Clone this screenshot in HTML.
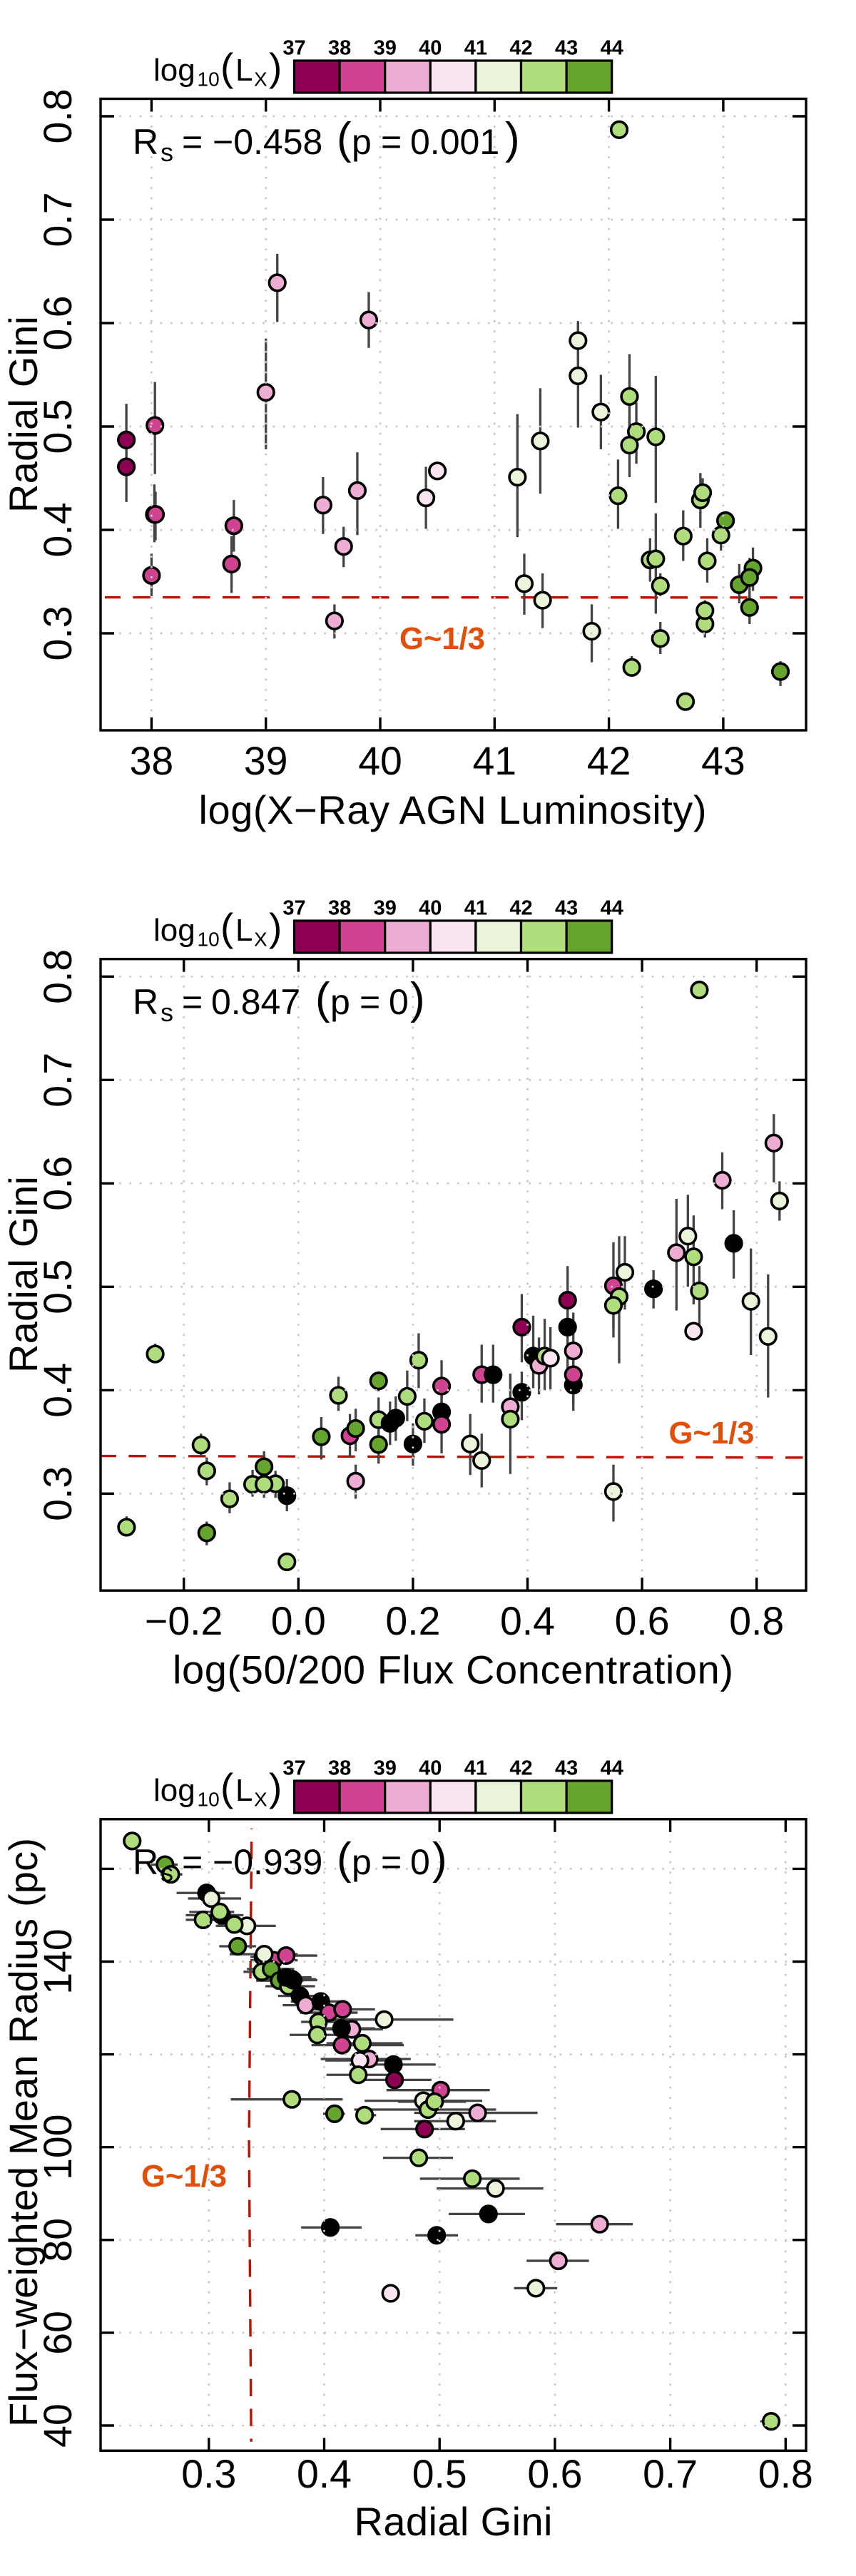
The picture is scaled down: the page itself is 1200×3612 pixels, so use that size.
<!DOCTYPE html>
<html lang="en">
<head>
<meta charset="utf-8">
<title>Radial Gini scatter panels</title>
<style>
html,body{margin:0;padding:0;background:#fff;}
svg{display:block;font-family:"Liberation Sans",Arial,sans-serif;}
</style>
</head>
<body>
<svg id="figure" xmlns="http://www.w3.org/2000/svg" width="1200" height="3612" viewBox="0 0 1200 3612">
  <rect x="0" y="0" width="1200" height="3612" fill="#fff"/>
  <g id="panel1"></g>
  <g id="panel2"></g>
  <g id="panel3"></g>

  <g fill="#000">
    <text x="634.5" y="1155" font-size="56" text-anchor="middle" textLength="712" lengthAdjust="spacing">log(X−Ray AGN Luminosity)</text>
    <text transform="translate(52,581) rotate(-90)" font-size="56" text-anchor="middle" textLength="276" lengthAdjust="spacing">Radial Gini</text>
    <text x="560" y="910" font-size="43.6" font-weight="bold" fill="#e0500a">G~1/3</text>
    <g font-size="50">
      <text x="186" y="216">R</text><text x="225" y="226" font-size="36">s</text><text x="255" y="216">=</text>
      <text x="298" y="216">−0.458</text><text x="472" y="215" font-size="62">(</text><text x="493" y="216">p</text><text x="534" y="216">=</text><text x="575" y="216">0.001</text><text x="708" y="215" font-size="62">)</text>
    </g>
    <g>
      <text x="215" y="113" font-size="44">log</text><text x="276.5" y="120.5" font-size="28">10</text><text x="309" y="113" font-size="55">(</text><text x="330" y="113" font-size="44">L</text><text x="356" y="120.5" font-size="28">X</text><text x="377" y="113" font-size="55">)</text>
    </g>
  </g>

  <g fill="#000">
    <text x="635" y="2360.5" font-size="56" text-anchor="middle" textLength="786" lengthAdjust="spacing">log(50/200 Flux Concentration)</text>
    <text transform="translate(52,1787) rotate(-90)" font-size="56" text-anchor="middle" textLength="276" lengthAdjust="spacing">Radial Gini</text>
    <text x="937.5" y="2024" font-size="43.6" font-weight="bold" fill="#e0500a">G~1/3</text>
    <g font-size="50">
      <text x="186" y="1422">R</text><text x="225" y="1432" font-size="36">s</text><text x="255" y="1422">=</text>
      <text x="296" y="1422">0.847</text><text x="442" y="1421" font-size="62">(</text><text x="463" y="1422">p</text><text x="504" y="1422">=</text><text x="545" y="1422">0</text><text x="575" y="1421" font-size="62">)</text>
    </g>
    <g transform="translate(0,1206)">
      <text x="215" y="113" font-size="44">log</text><text x="276.5" y="120.5" font-size="28">10</text><text x="309" y="113" font-size="55">(</text><text x="330" y="113" font-size="44">L</text><text x="356" y="120.5" font-size="28">X</text><text x="377" y="113" font-size="55">)</text>
    </g>
  </g>

  <g fill="#000">
    <text x="635.5" y="3555" font-size="56" text-anchor="middle" textLength="278" lengthAdjust="spacing">Radial Gini</text>
    <text transform="translate(52,2990) rotate(-90)" font-size="56" text-anchor="middle" textLength="826" lengthAdjust="spacing">Flux−weighted Mean Radius (pc)</text>
    <text x="198" y="3066" font-size="43.6" font-weight="bold" fill="#e0500a">G~1/3</text>
    <g font-size="50">
      <text x="186" y="2628">R</text><text x="225" y="2638" font-size="36">s</text><text x="255" y="2628">=</text>
      <text x="298" y="2628">−0.939</text><text x="472" y="2627" font-size="62">(</text><text x="493" y="2628">p</text><text x="534" y="2628">=</text><text x="575" y="2628">0</text><text x="606" y="2627" font-size="62">)</text>
    </g>
    <g transform="translate(0,2412)">
      <text x="215" y="113" font-size="44">log</text><text x="276.5" y="120.5" font-size="28">10</text><text x="309" y="113" font-size="55">(</text><text x="330" y="113" font-size="44">L</text><text x="356" y="120.5" font-size="28">X</text><text x="377" y="113" font-size="55">)</text>
    </g>
  </g>
</svg>

<script>
// Legend data
const legendLabels = ['37','38','39','40','41','42','43','44'];
const categoryColors = ['#8e0152','#d04391','#efadd3','#fbe5f1','#e9f4db','#b0dd7c','#66a52d','#000000'];

// Panel 1: X-ray luminosity vs radial Gini
const p1Lum  = [37.78,37.78,38.03,38.025,38.035,38.0,38.72,38.70,39.10,39.90,39.00,39.50,39.80,39.68,39.60,40.40,40.50,41.2,41.40,41.73,41.73,41.93,41.26,41.42,41.85,42.09,42.18,42.24,42.18,42.41,42.08,42.80,42.82,43.02,42.98,42.65,42.86,42.36,42.41,42.45,42.84,42.84,42.45,42.2,42.67,43.26,43.14,43.23,43.23,43.5];
const p1Gini = [.487,.461,.501,.415,.415,.356,.404,.367,.639,.603,.533,.424,.438,.384,.312,.431,.457,.451,.486,.583,.549,.514,.348,.332,.302,.787,.529,.495,.482,.49,.433,.429,.436,.409,.395,.394,.370,.371,.372,.346,.309,.322,.295,.267,.234,.363,.347,.354,.325,.263];
const p1Lo   = [.46,.427,.454,.388,.39,.336,.379,.339,.601,.576,.478,.396,.395,.364,.295,.401,.457,.393,.435,.56,.499,.478,.318,.305,.272,.785,.49,.464,.451,.426,.401,.402,.42,.395,.38,.37,.349,.35,.319,.336,.296,.31,.28,.259,.234,.341,.329,.33,.309,.249];
const p1Hi   = [.522,.49,.543,.444,.437,.377,.429,.394,.667,.630,.585,.451,.475,.403,.328,.461,.457,.512,.537,.602,.60,.55,.377,.358,.328,.789,.57,.523,.51,.549,.468,.455,.45,.418,.41,.419,.392,.392,.416,.358,.32,.332,.311,.278,.234,.383,.367,.373,.34,.273];
const p1Cat  = [0,0,1,1,1,1,1,1,2,2,2,2,2,2,2,3,3,4,4,4,4,4,4,4,4,5,5,5,5,5,5,5,5,6,5,5,5,5,5,5,5,5,5,5,5,6,6,6,6,6];
const p1XTicks = [38,39,40,41,42,43];
const p1YTicks = [0.3,0.4,0.5,0.6,0.7,0.8];
const p1LineX = [37.592,43.70];
const p1LineY = [.3348,.3346];

// Panel 2: flux concentration vs radial Gini
const p2Conc = [-0.30,-0.25,-0.17,-0.16,-0.16,-0.12,-0.06,-0.08,-0.04,-0.06,-0.02,-0.02,0.04,0.07,0.09,0.10,0.10,0.14,0.14,0.14,0.17,0.16,0.19,0.20,0.21,0.22,0.25,0.25,0.25,0.30,0.32,0.32,0.34,0.37,0.37,0.39,0.39,0.41,0.42,0.43,0.44,0.47,0.47,0.48,0.48,0.48,0.55,0.56,0.55,0.55,0.57,0.62,0.66,0.68,0.69,0.69,0.70,0.70,0.74,0.76,0.79,0.82,0.83,0.84];
const p2Gini = [.2675,.435,.347,.322,.262,.295,.326,.309,.3095,.309,.298,.234,.355,.395,.356,.363,.312,.409,.3715,.3475,.373,.368,.394,.348,.429,.37,.379,.404,.367,.348,.332,.415,.415,.384,.372,.461,.398,.433,.424,.433,.431,.487,.461,.405,.438,.415,.501,.4905,.482,.302,.514,.498,.533,.549,.529,.457,.787,.496,.603,.542,.486,.452,.639,.583];
const p2Lo   = [.26,.43,.336,.308,.25,.281,.31,.297,.296,.296,.283,.234,.333,.38,.336,.341,.295,.399,.35,.329,.351,.347,.37,.327,.402,.349,.36,.379,.339,.318,.306,.388,.388,.364,.319,.427,.371,.402,.396,.40,.401,.46,.42,.38,.397,.388,.46,.426,.451,.273,.478,.479,.477,.50,.483,.457,.785,.458,.575,.508,.434,.393,.601,.564];
const p2Hi   = [.278,.445,.358,.335,.273,.311,.341,.323,.322,.32,.314,.234,.374,.413,.377,.382,.328,.418,.393,.367,.394,.389,.419,.368,.455,.392,.40,.429,.394,.377,.358,.444,.444,.416,.416,.493,.418,.472,.451,.469,.461,.52,.49,.43,.475,.444,.543,.549,.51,.328,.549,.516,.585,.589,.569,.457,.79,.52,.63,.574,.537,.512,.667,.602];
const p2Cat  = [5,5,5,5,6,5,6,5,5,5,7,5,6,5,1,6,2,6,5,6,7,7,5,7,5,5,7,1,1,4,4,1,7,2,5,0,7,7,2,5,3,0,7,7,2,1,1,5,5,4,4,7,2,4,5,3,5,5,2,7,4,4,2,4];
const p2XTicks = [-0.2,0.0,0.2,0.4,0.6,0.8];
const p2YTicks = [0.3,0.4,0.5,0.6,0.7,0.8];
const p2LineX = [-0.3453,0.881];
const p2LineY = [.3364,.3348];

// Panel 3: radial Gini vs flux-weighted mean radius
const p3Gini = [.2335,.262,.267,.298,.302,.311,.3095,.295,.333,.322,.325,.347,.356,.348,.367,.346,.354,.372,.361,.369,.367,.373,.379,.384,.397,.404,.416,.452,.395,.394,.424,.415,.4155,.433,.439,.431,.46,.4295,.461,.372,.409,.435,.501,.486,.49,.4957,.487,.514,.533,.482,.5284,.5485,.5424,.6388,.4975,.4053,.603,.5835,.4576,.7875];
const p3Lo   = [.2335,.25,.258,.272,.282,.28,.283,.28,.306,.308,.309,.336,.336,.318,.339,.33,.333,.35,.341,.349,.347,.351,.36,.364,.371,.379,.389,.393,.38,.37,.396,.388,.389,.402,.397,.401,.422,.402,.427,.319,.399,.43,.454,.435,.426,.464,.449,.478,.478,.451,.483,.4975,.508,.601,.479,.38,.5755,.5645,.4576,.778];
const p3Hi   = [.2335,.273,.277,.314,.328,.33,.322,.311,.358,.335,.341,.358,.377,.377,.394,.358,.374,.393,.382,.392,.389,.394,.40,.403,.418,.429,.444,.512,.429,.417,.451,.444,.469,.468,.475,.461,.4967,.455,.493,.416,.418,.445,.5435,.537,.549,.523,.522,.549,.585,.5116,.5695,.59,.574,.6675,.516,.4325,.6295,.602,.4576,.79];
const p3Radius = [166,160.9,158.8,154.8,153.6,150,150.7,149,147.7,148,143.3,141,140.3,141.6,141.3,137.8,138.4,136.2,135.9,134.7,136.6,136,132.6,130.6,131.4,129,129.7,127.5,127,124.2,125.4,125.6,122,122.4,119,118.7,117.8,115.6,114.5,110.3,107.2,106.9,112.3,110,108.1,109.8,103.9,105.6,107.4,97.7,93.2,91.1,85.6,83.4,81,82.7,75.5,69.6,68.5,40.9];
const p3Cat  = [5,6,5,7,4,7,5,5,4,5,6,5,1,4,1,5,6,5,6,5,7,7,7,2,7,1,1,4,5,5,2,7,1,5,2,3,7,5,0,5,6,5,1,4,5,5,0,4,2,5,5,4,7,2,7,7,2,4,3,5];
const p3XTicks = [0.3,0.4,0.5,0.6,0.7,0.8];
const p3YTicks = [40,60,80,100,120,140,160];
const p3YLabels = ['40','60','80','100','','140',''];
const p3LineX = [.3367,.3348,.3371];
const p3LineY = [36.5,101.7,168.7];

// Axis functions
const xScale1 = v => 212.4 + (v - 38) * 160.3;
const yScale1 = v => 888 - (v - 0.3) * 1450;
const xScale2 = v => 418.3 + v * 803;
const yScale2 = v => 2094.3 - (v - 0.3) * 1450;
const xScale3 = v => 292.8 + (v - 0.3) * 1617;
const yScale3 = v => 3401 - (v - 40) * 6.505;

const SVG_NS = 'http://www.w3.org/2000/svg';
function make(parent, tag, props) {
  const el = document.createElementNS(SVG_NS, tag);
  for (const k in props) el.setAttribute(k, props[k]);
  parent.appendChild(el);
  return el;
}

function drawFrame(g, top) {
  const frame = make(g, 'rect', {x:141, y:top, width:989, height:885.5, fill:'none', stroke:'#000', 'stroke-width':3.4});
  
  
}

function drawTicks(g, xScale, yScale, xTicks, yTicks, xLabels, yLabels, top, xBase) {
  const bottom = top + 885.5;
  xTicks.forEach((t, i) => {
    const x = xScale(t);
    [[bottom, bottom - 18], [top, top + 18]].forEach(p => {
      const tick = make(g, 'line', {x1:x, x2:x, y1:p[0], y2:p[1], stroke:'#000', 'stroke-width':3.4});
      
      
    });
    const lab = make(g, 'text', {x:x, y:xBase, 'font-size':55.4, 'text-anchor':'middle'});
    lab.textContent = xLabels[i];
    
    
  });
  yTicks.forEach((t, i) => {
    const y = yScale(t);
    [[141, 160], [1130, 1111]].forEach(p => {
      const tick = make(g, 'line', {x1:p[0], x2:p[1], y1:y, y2:y, stroke:'#000', 'stroke-width':3.4});
      
      
    });
    if (yLabels[i]) {
      const lab = make(g, 'text', {transform:'translate(100,' + y + ') rotate(-90)', 'font-size':55.4, 'text-anchor':'middle'});
      lab.textContent = yLabels[i];
      
      
    }
  });
}

function drawGrid(g, xScale, yScale, xTicks, yTicks, gridTop, gridBottom) {
  xTicks.forEach(t => {
    const x = xScale(t);
    const line = make(g, 'line', {x1:x, x2:x, y1:gridBottom, y2:gridTop, stroke:'#c8c8c8', 'stroke-width':3, 'stroke-linecap':'round', 'stroke-dasharray':'0.01 14.35'});
    
    
  });
  yTicks.forEach(t => {
    const y = yScale(t);
    const line = make(g, 'line', {x1:168.4, x2:1103, y1:y, y2:y, stroke:'#c8c8c8', 'stroke-width':3, 'stroke-linecap':'round', 'stroke-dasharray':'0.01 14.35'});
    
    
  });
}

function drawThreshold(g, xs, ys, xScale, yScale, offset) {
  const pts = xs.map((v, i) => xScale(v) + ',' + yScale(ys[i])).join(' ');
  const line = make(g, 'polyline', {points:pts, fill:'none', stroke:'#c01000', 'stroke-width':3.4, 'stroke-dasharray':'24.4 17.45', 'stroke-dashoffset':offset});
  
  
}

function drawVerticalBars(g, xs, lo, hi, xScale, yScale) {
  xs.forEach((v, i) => {
    if (hi[i] === lo[i]) return;
    const bar = make(g, 'line', {x1:xScale(v), x2:xScale(v), y1:yScale(lo[i]), y2:yScale(hi[i]), stroke:'#444', 'stroke-width':3.3});
    
    
  });
}

function drawHorizontalBars(g, ys, lo, hi, xScale, yScale) {
  ys.forEach((v, i) => {
    if (hi[i] === lo[i]) return;
    const bar = make(g, 'line', {x1:xScale(lo[i]), x2:xScale(hi[i]), y1:yScale(v), y2:yScale(v), stroke:'#444', 'stroke-width':3.3});
    
    
  });
}

function drawPoints(g, xs, ys, cats, xScale, yScale) {
  xs.forEach((v, i) => {
    const c = make(g, 'circle', {cx:xScale(v), cy:yScale(ys[i]), r:11.3, fill:categoryColors[cats[i]], stroke:'#000', 'stroke-width':3.6});
    
    
  });
}

function drawLegend(g, dy) {
  const cellW = 63.6, x0 = 412.5, y0 = 85 + dy, h = 45;
  legendLabels.forEach((lab, i) => {
    if (i < legendLabels.length - 1) {
      const cell = make(g, 'rect', {x:x0 + i * cellW, y:y0, width:cellW, height:h, fill:categoryColors[i], stroke:'#000', 'stroke-width':3.2});
      
      
    }
    const t = make(g, 'text', {x:x0 + i * cellW, y:76.5 + dy, 'font-size':29, 'font-weight':'bold', 'text-anchor':'middle'});
    t.textContent = lab;
    
    
  });
}

const fmt1 = v => v.toFixed(1).replace('-', '\u2212');

// Panel 1
(function () {
  const g = document.getElementById('panel1');
  drawLegend(g, 0);
  drawThreshold(g, p1LineX, p1LineY, xScale1, yScale1, 2.5);
  drawVerticalBars(g, p1Lum, p1Lo, p1Hi, xScale1, yScale1);
  drawPoints(g, p1Lum, p1Gini, p1Cat, xScale1, yScale1);
  drawGrid(g, xScale1, yScale1, p1XTicks, p1YTicks, 163, 996);
  drawFrame(g, 138.5);
  drawTicks(g, xScale1, yScale1, p1XTicks, p1YTicks, p1XTicks.map(String), p1YTicks.map(fmt1), 138.5, 1086);
})();

// Panel 2
(function () {
  const g = document.getElementById('panel2');
  drawLegend(g, 1206);
  drawThreshold(g, p2LineX, p2LineY, xScale2, yScale2, 2.5);
  drawVerticalBars(g, p2Conc, p2Lo, p2Hi, xScale2, yScale2);
  drawPoints(g, p2Conc, p2Gini, p2Cat, xScale2, yScale2);
  drawGrid(g, xScale2, yScale2, p2XTicks, p2YTicks, 1369, 2202);
  drawFrame(g, 1344.7);
  drawTicks(g, xScale2, yScale2, p2XTicks, p2YTicks, p2XTicks.map(fmt1), p2YTicks.map(fmt1), 1344.7, 2292);
})();

// Panel 3
(function () {
  const g = document.getElementById('panel3');
  drawLegend(g, 2412);
  drawThreshold(g, p3LineX, p3LineY, xScale3, yScale3, 20);
  drawHorizontalBars(g, p3Radius, p3Lo, p3Hi, xScale3, yScale3);
  drawPoints(g, p3Gini, p3Radius, p3Cat, xScale3, yScale3);
  drawGrid(g, xScale3, yScale3, p3XTicks, p3YTicks, 2576, 3401);
  drawFrame(g, 2550.8);
  drawTicks(g, xScale3, yScale3, p3XTicks, p3YTicks, p3XTicks.map(fmt1), p3YLabels, 2550.8, 3488);
})();
</script>
</body>
</html>
